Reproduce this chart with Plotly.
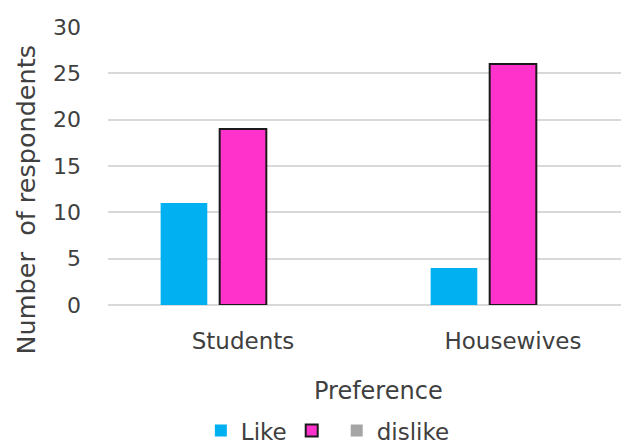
import plotly.graph_objects as go

# Survey responses by group
groups = ["Students", "Housewives"]
like = [11, 4]
unnamed = [19, 26]
dislike = [0, 0]

FONT = "DejaVu Sans"
TXT = "#404040"

fig = go.Figure()
fig.add_trace(go.Bar(name="Like", x=groups, y=like,
                     marker=dict(color="#00B0F0", line=dict(width=0))))
fig.add_trace(go.Bar(name="", x=groups, y=unnamed,
                     marker=dict(color="#FF33CC", line=dict(color="#1a1a1a", width=2))))
fig.add_trace(go.Bar(name="dislike", x=groups, y=dislike,
                     marker=dict(color="#A5A5A5", line=dict(width=0))))

fig.update_layout(
    width=621, height=446,
    margin=dict(l=108, r=0, t=27, b=141, autoexpand=False),
    paper_bgcolor="white", plot_bgcolor="white",
    font=dict(family=FONT, size=23, color=TXT),
    barmode="group", bargap=0.344, bargroupgap=0.21,
    showlegend=True,
    legend=dict(orientation="h", x=0.181, xanchor="left",
                yref="paper", y=-0.452, yanchor="middle",
                font=dict(size=23, color=TXT), itemsizing="constant",
                bgcolor="rgba(0,0,0,0)"),
    xaxis=dict(range=[-0.5, 1.4], showgrid=False, showline=False, zeroline=False,
               ticks="", ticklabelstandoff=20, tickfont=dict(size=23, color=TXT)),
    yaxis=dict(range=[0, 30], dtick=5, showgrid=True, gridcolor="#D9D9D9", gridwidth=1.5,
               zeroline=True, zerolinecolor="#D9D9D9", zerolinewidth=1.5,
               showline=False, ticks="", ticklabelstandoff=26,
               tickfont=dict(size=22, color=TXT)),
    annotations=[
        dict(text="Preference", x=0.5, xref="x", y=-0.31, yref="paper",
             showarrow=False, xanchor="center", yanchor="middle",
             font=dict(size=24, color=TXT)),
        dict(text="Number  of respondents", textangle=-90, x=-0.159, xref="paper",
             y=0.381, yref="paper", showarrow=False, xanchor="center", yanchor="middle",
             font=dict(size=25.5, color=TXT)),
    ],
)

fig.write_html("out.html")
